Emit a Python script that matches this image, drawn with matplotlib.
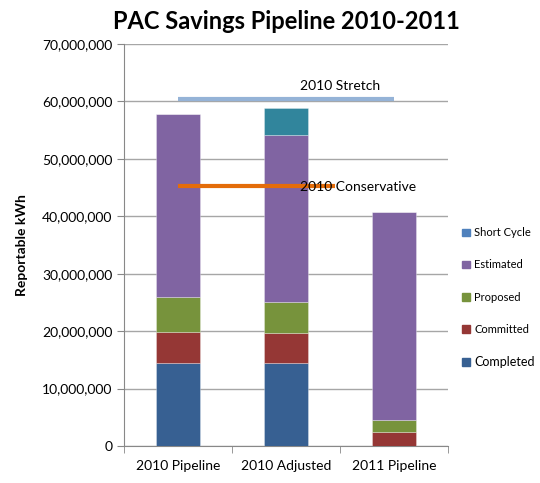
import matplotlib
matplotlib.use("Agg")
import numpy as np
from matplotlib import pyplot as plt
from matplotlib.patches import Patch
from matplotlib.ticker import FuncFormatter

categories = ["2010 Pipeline", "2010 Adjusted", "2011 Pipeline"]
series_names = ["Completed", "Committed", "Proposed", "Estimated", "Short Cycle"]
completed = [14.4e6, 14.4e6, 0]
committed = [5.5e6, 5.2e6, 2.45e6]
proposed = [6.0e6, 5.4e6, 2.05e6]
estimated = [31.9e6, 29.1e6, 36.3e6]
short_cycle = [0, 4.8e6, 0]

stretch_value = 60.5e6
conservative_value = 45.3e6

colors = {"Completed": "#376092", "Committed": "#953735",
          "Proposed": "#77933C", "Estimated": "#8064A2",
          "Short Cycle": "#31859C"}
legend_colors = dict(colors, **{"Short Cycle": "#4F81BD"})

plt.rcParams['font.family'] = ['Lato', 'DejaVu Sans']

fig = plt.figure(figsize=(5.4, 4.83), dpi=100)
ax = fig.add_axes([0.2296, 0.0766, 0.6, 0.8323])

x = np.arange(len(categories))
bottom = np.zeros(len(categories))
for name, vals in zip(series_names,
                      [completed, committed, proposed, estimated, short_cycle]):
    vals = np.array(vals, dtype=float)
    ax.bar(x, vals, 0.4, bottom=bottom, color=colors[name],
           edgecolor=(1, 1, 1, 0.35), linewidth=0.6, zorder=3)
    bottom += vals

# target lines
ax.plot([0, 2], [stretch_value] * 2, color="#95B3D7", lw=3, zorder=4,
        solid_capstyle="butt")
ax.plot([0, 1.45], [conservative_value] * 2, color="#E46C0A", lw=3, zorder=4,
        solid_capstyle="butt")
ax.text(1.13, stretch_value + 1.5e6, "2010 Stretch", fontsize=10, zorder=5)
ax.text(1.13, conservative_value - 0.2e6, "2010 Conservative", fontsize=10,
        va="center", zorder=5)

ax.set_xlim(-0.5, 2.5)
ax.set_ylim(0, 70e6)
ax.set_yticks(np.arange(0, 70e6 + 1, 10e6))
ax.yaxis.set_major_formatter(FuncFormatter(lambda v, p: f"{v:,.0f}"))
ax.set_xticks(x)
ax.set_xticklabels(categories)
ax.set_xticks([-0.5, 0.5, 1.5, 2.5], minor=True)
ax.tick_params(axis="x", which="major", length=0, labelsize=10, pad=10)
ax.tick_params(axis="x", which="minor", length=5, color="#888888")
ax.tick_params(axis="y", length=5, color="#888888", labelsize=10)
ax.grid(axis="y", color="#A6A6A6", lw=1, zorder=0)
for s in ["top", "right"]:
    ax.spines[s].set_visible(False)
for s in ["left", "bottom"]:
    ax.spines[s].set_color("#888888")
ax.set_ylabel("Reportable kWh", fontsize=10, fontweight="bold", labelpad=10)
ax.set_title("PAC Savings Pipeline 2010-2011", fontsize=17, fontweight="bold",
             pad=11)

handles = [Patch(color=legend_colors[n]) for n in reversed(series_names)]
leg = fig.legend(handles, list(reversed(series_names)), loc="center left",
                 bbox_to_anchor=(0.837, 0.384), frameon=False, fontsize=8,
                 handlelength=0.7, handleheight=0.7, handletextpad=0.4,
                 labelspacing=1.9)
leg.get_texts()[-1].set_fontsize(9)

fig.savefig("out.png", dpi=100)
